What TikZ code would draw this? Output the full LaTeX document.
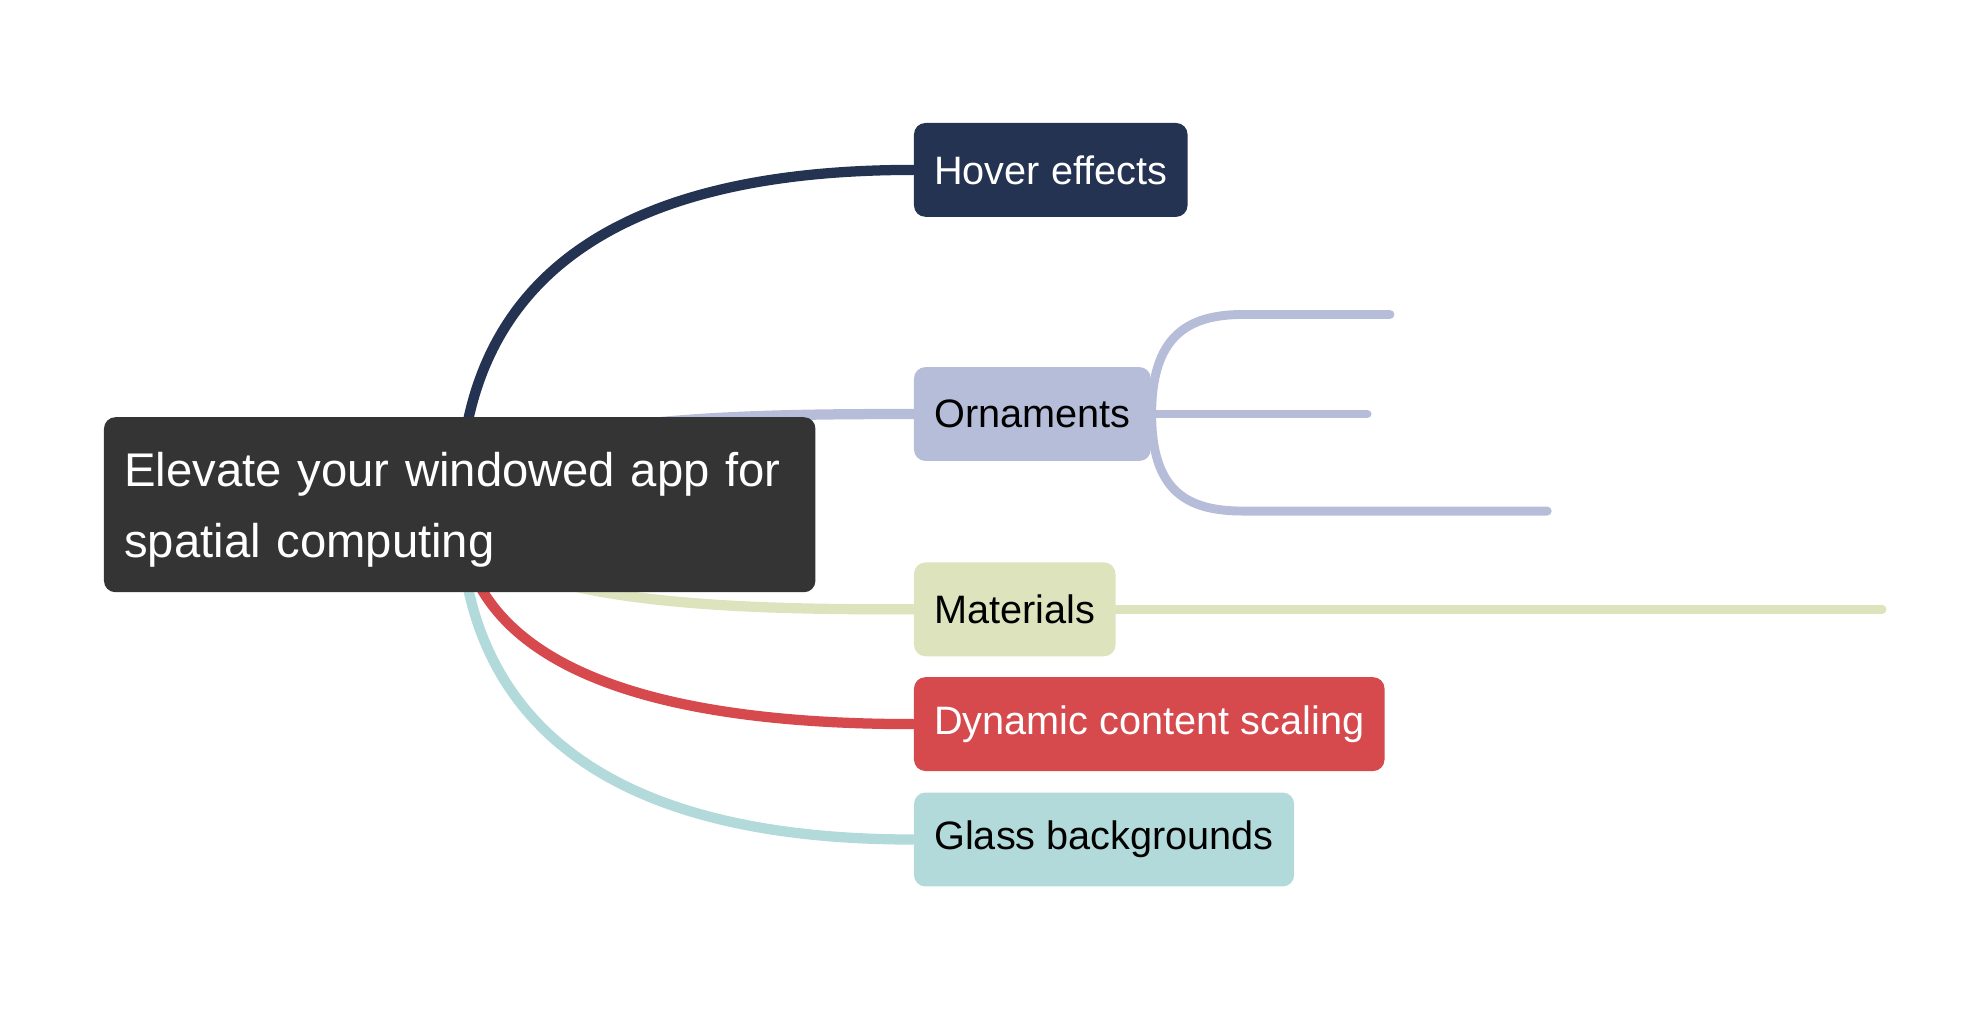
\documentclass[tikz,border=0pt]{standalone}
\usepackage{fontspec}
\setmainfont{Liberation Sans}
\usetikzlibrary{positioning,backgrounds}
\definecolor{rootgray}{HTML}{343434}
\definecolor{hovercol}{HTML}{243352}
\definecolor{orncol}{HTML}{B5BDD8}
\definecolor{matcol}{HTML}{DDE3BD}
\definecolor{dyncol}{HTML}{D6494D}
\definecolor{glasscol}{HTML}{B2DADB}
\tikzset{
  topic/.style={rounded corners=0.09cm,inner xsep=0.16cm,inner ysep=0pt,
    minimum height=0.74cm,anchor=west,font=\fontsize{8.9}{10.7}\selectfont},
  rootbox/.style={fill=rootgray,text=white,rounded corners=0.09cm,
    text width=5.29cm,align=left,inner xsep=0.16cm,inner ysep=0pt,text height=10pt,
    minimum height=1.38cm,font=\fontsize{10.6}{15.9}\selectfont},
  conn/.style={line width=2.3pt,line cap=round},
  subconn/.style={conn,line width=2pt,orncol},
}

\begin{document}
\begin{tikzpicture}
\useasboundingbox (0,-0.03) rectangle (15.66,7.92);
\node[rootbox] (root) at (3.625,3.94) {Elevate your windowed app for\\spatial computing};
\node[topic,fill=hovercol,text=white] (hover) at (7.2,6.58) {Hover effects};
\node[topic,fill=orncol] (orn) at (7.2,4.655) {Ornaments};
\node[topic,fill=matcol] (mat) at (7.2,3.115) {Materials};
\node[topic,fill=dyncol,text=white] (dyn) at (7.2,2.21) {Dynamic content scaling};
\node[topic,fill=glasscol] (glass) at (7.2,1.3) {Glass backgrounds};
% empty sub-branches
\coordinate (o1) at (10.96,5.44);
\coordinate (o2) at (10.78,4.655);
\coordinate (o3) at (12.2,3.89);
\coordinate (m1) at (14.84,3.115);
\begin{scope}[on background layer]
\draw[conn,hovercol] (root.center) .. controls +(0,1.66) and +(-2.5,0) .. (hover.west);
\draw[conn,orncol] (root.center) .. controls +(0,0.715) and +(-1.2,0) .. (orn.west);
\draw[conn,matcol] (root.center) .. controls +(0,-0.825) and +(-1.2,0) .. (mat.west);
\draw[conn,dyncol] (root.center) .. controls +(0,-1.07) and +(-2.5,0) .. (dyn.west);
\draw[conn,glasscol] (root.center) .. controls +(0,-1.64) and +(-2.5,0) .. (glass.west);
\draw[subconn] (orn.east) .. controls +(0,0.6) and +(-0.45,0) .. ([xshift=-1.16cm]o1) -- (o1);
\draw[subconn] (orn.east) -- (o2);
\draw[subconn] (orn.east) .. controls +(0,-0.6) and +(-0.45,0) .. ([xshift=-2.4cm]o3) -- (o3);
\draw[conn,line width=2pt,matcol] (mat.east) -- (m1);
\end{scope}
\end{tikzpicture}
\end{document}
